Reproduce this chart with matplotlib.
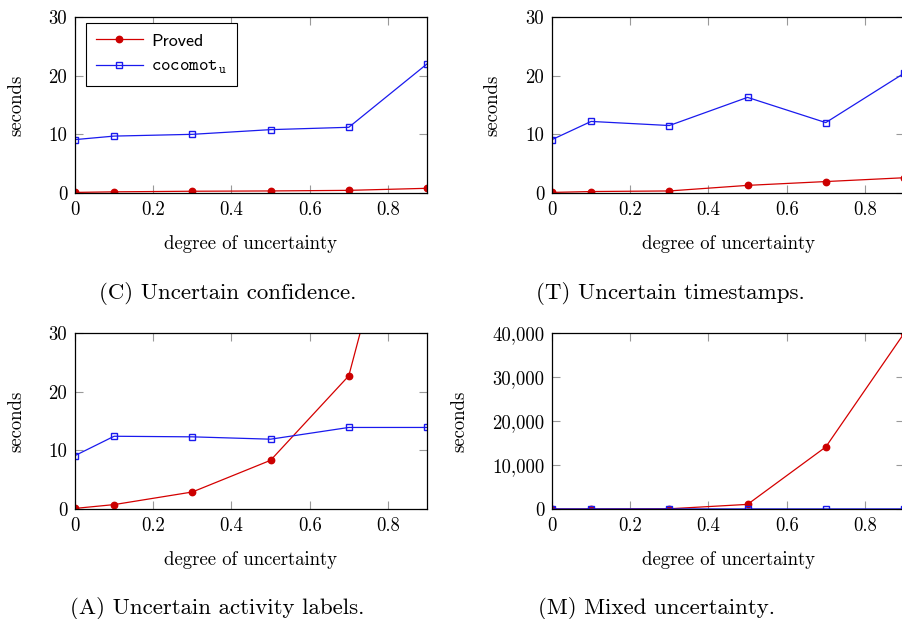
import matplotlib
matplotlib.use("Agg")
import matplotlib.pyplot as plt
from matplotlib.ticker import FuncFormatter

plt.rcParams['font.family'] = ['cmr10', 'DejaVu Serif']
plt.rcParams['mathtext.fontset'] = 'cm'
plt.rcParams['axes.formatter.use_mathtext'] = True

x = [0, 0.1, 0.3, 0.5, 0.7, 0.9]

# (C) uncertain confidence
proved_c = [0.1, 0.2, 0.3, 0.35, 0.45, 0.8]
cocomot_c = [9.1, 9.7, 10.0, 10.8, 11.2, 22.0]
# (T) uncertain timestamps
proved_t = [0.1, 0.25, 0.35, 1.3, 1.95, 2.6]
cocomot_t = [9.1, 12.2, 11.5, 16.3, 12.0, 20.4]
# (A) uncertain activity labels
proved_a = [0.1, 0.75, 2.9, 8.3, 22.7, 73.0]
cocomot_a = [9.1, 12.4, 12.3, 11.9, 13.9, 13.9]
# (M) mixed uncertainty
proved_m = [0.1, 1.0, 50.0, 1050.0, 14100.0, 39900.0]
cocomot_m = [9.5, 12.5, 13.0, 14.0, 15.5, 18.0]

captions = ["(C) Uncertain confidence.", "(T) Uncertain timestamps.",
            "(A) Uncertain activity labels.", "(M) Mixed uncertainty."]
yticks_small = [0, 10, 20, 30]
yticks_big = [0, 10000, 20000, 30000, 40000]
xticks = [0, 0.2, 0.4, 0.6, 0.8]

W, H = 902, 619
fig = plt.figure(figsize=(W / 100, H / 100), dpi=100)


def make_ax(x0, x1, top, bottom):
    return fig.add_axes([x0 / W, 1 - bottom / H, (x1 - x0) / W, (bottom - top) / H])


panels = [
    (make_ax(75, 427, 17, 193), proved_c, cocomot_c, yticks_small, 228, 293),
    (make_ax(552, 904, 17, 193), proved_t, cocomot_t, yticks_small, 670, 293),
    (make_ax(75, 427, 333, 509), proved_a, cocomot_a, yticks_small, 217, 608),
    (make_ax(552, 904, 333, 509), proved_m, cocomot_m, yticks_big, 656, 608),
]

red = '#d40000'
blue = '#1a1aee'

for i, (ax, pv, cc, yt, cap_x, cap_y) in enumerate(panels):
    ax.plot(x, pv, color=red, lw=0.9, marker='o', markersize=4.6,
            markerfacecolor='#cc0000', markeredgecolor='#cc0000', label='Proved')
    ax.plot(x, cc, color=blue, lw=0.9, marker='s', markersize=4.6,
            markerfacecolor='none', markeredgecolor=blue, markeredgewidth=1.0,
            label=r'$\mathtt{cocomot}_{\mathtt{u}}$')
    ax.set_xlim(0, 0.9)
    ax.set_ylim(yt[0], yt[-1])
    ax.set_xticks(xticks)
    ax.set_yticks(yt)
    ax.xaxis.set_major_formatter(FuncFormatter(lambda v, p: '0' if v == 0 else f'{v:g}'))
    ax.yaxis.set_major_formatter(FuncFormatter(lambda v, p: f'{v:,.0f}'))
    ax.tick_params(direction='in', length=6, width=0.8, color='#999999',
                   top=True, right=True, labelsize=13.5, pad=5.5)
    for s in ax.spines.values():
        s.set_linewidth(0.9)
    ax.set_xlabel('degree of uncertainty', fontsize=13.5, labelpad=12)
    ax.set_ylabel('seconds', fontsize=13.5, labelpad=17)
    fig.text(cap_x / W, 1 - cap_y / H, captions[i], fontsize=16.5,
             ha='center', va='center')
    if i == 0:
        leg = ax.legend(loc='upper left', bbox_to_anchor=(11 / 352, 1 - 6 / 176),
                        fontsize=13, fancybox=False,
                        edgecolor='black', framealpha=1, borderaxespad=0,
                        handlelength=2.6, handletextpad=0.45,
                        borderpad=0.55, labelspacing=0.55)
        leg.get_frame().set_linewidth(0.8)
        leg.get_texts()[0].set_family('cmss10')

fig.savefig('out.png', dpi=100)
